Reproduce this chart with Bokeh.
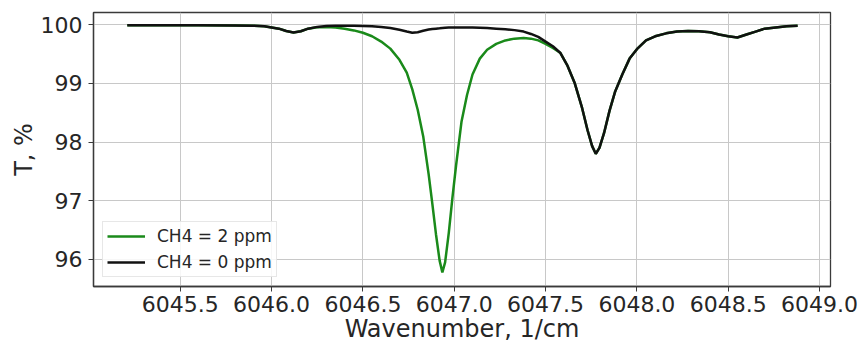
from bokeh.plotting import figure
from bokeh.models import (ColumnDataSource, Range1d, FixedTicker, NumeralTickFormatter,
                          Legend, LegendItem)
from bokeh.embed import file_html
from bokeh.resources import INLINE

# Transmission spectrum near 6047 1/cm, with and without methane
wavenumber = [6045.21, 6045.40, 6045.60, 6045.80, 6045.90, 6045.96, 6046.00, 6046.04,
              6046.08, 6046.12, 6046.16, 6046.20, 6046.25, 6046.30, 6046.35, 6046.40,
              6046.45, 6046.50, 6046.55, 6046.60, 6046.65, 6046.70, 6046.74, 6046.77,
              6046.80, 6046.83, 6046.86, 6046.88, 6046.90, 6046.92, 6046.935, 6046.95,
              6046.97, 6046.99, 6047.01, 6047.04, 6047.07, 6047.10, 6047.14, 6047.18,
              6047.23, 6047.28, 6047.33, 6047.38, 6047.42, 6047.46, 6047.50, 6047.54,
              6047.58, 6047.62, 6047.66, 6047.70, 6047.73, 6047.755, 6047.775, 6047.795,
              6047.82, 6047.85, 6047.88, 6047.92, 6047.96, 6048.00, 6048.05, 6048.10,
              6048.16, 6048.22, 6048.28, 6048.34, 6048.40, 6048.45, 6048.50, 6048.55,
              6048.60, 6048.65, 6048.70, 6048.76, 6048.82, 6048.88]

t_ch4_0ppm = [99.99, 99.99, 99.99, 99.985, 99.98, 99.97, 99.95, 99.93,
              99.89, 99.865, 99.885, 99.93, 99.96, 99.975, 99.98, 99.98,
              99.98, 99.975, 99.97, 99.96, 99.94, 99.91, 99.88, 99.86,
              99.87, 99.895, 99.915, 99.925, 99.93, 99.935, 99.94, 99.945,
              99.95, 99.95, 99.95, 99.95, 99.95, 99.95, 99.945, 99.94,
              99.93, 99.92, 99.905, 99.88, 99.84, 99.79, 99.71, 99.63,
              99.52, 99.30, 99.00, 98.58, 98.20, 97.93, 97.80, 97.90,
              98.15, 98.53, 98.85, 99.15, 99.42, 99.58, 99.73, 99.80,
              99.85, 99.88, 99.89, 99.885, 99.87, 99.83, 99.80, 99.78,
              99.83, 99.88, 99.93, 99.95, 99.97, 99.98]

t_ch4_2ppm = [99.99, 99.99, 99.99, 99.985, 99.98, 99.97, 99.95, 99.93,
              99.89, 99.865, 99.885, 99.93, 99.955, 99.96, 99.95, 99.93,
              99.90, 99.86, 99.80, 99.71, 99.59, 99.40, 99.18, 98.90,
              98.55, 98.10, 97.45, 96.95, 96.43, 95.98, 95.78, 95.95,
              96.45, 97.05, 97.60, 98.35, 98.80, 99.15, 99.42, 99.57,
              99.67, 99.73, 99.76, 99.77, 99.76, 99.73, 99.67, 99.60,
              99.52, 99.30, 99.00, 98.58, 98.20, 97.93, 97.80, 97.90,
              98.15, 98.53, 98.85, 99.15, 99.42, 99.58, 99.73, 99.80,
              99.85, 99.88, 99.89, 99.885, 99.87, 99.83, 99.80, 99.78,
              99.83, 99.88, 99.93, 99.95, 99.97, 99.98]

series_labels = ["CH4 = 2 ppm", "CH4 = 0 ppm"]
x_ticks = [6045.5, 6046.0, 6046.5, 6047.0, 6047.5, 6048.0, 6048.5, 6049.0]
y_ticks = [96, 97, 98, 99, 100]

FONT = "DejaVu Sans"
TEXT = "#262626"
FRAME = "#3a3a3a"

src = ColumnDataSource(dict(wn=wavenumber, t0=t_ch4_0ppm, t2=t_ch4_2ppm))

p = figure(width=859, height=347, output_backend="svg", toolbar_location=None,
           x_range=Range1d(6045.025, 6049.06), y_range=Range1d(95.54, 100.205),
           min_border_left=93, min_border_right=29, min_border_top=12,
           min_border_bottom=61)
p.background_fill_color = "white"
p.border_fill_color = "white"
p.outline_line_color = FRAME
p.outline_line_width = 1.3

r2 = p.line("wn", "t2", source=src, line_color="#1a8a1a", line_width=2.5)
r0 = p.line("wn", "t0", source=src, line_color="#111111", line_width=2.5)

p.xaxis.ticker = FixedTicker(ticks=x_ticks)
p.xaxis.formatter = NumeralTickFormatter(format="0.0")
p.yaxis.ticker = FixedTicker(ticks=y_ticks)

p.xaxis.axis_label = "Wavenumber, 1/cm"
p.yaxis.axis_label = "T, %"
for ax in (p.xaxis, p.yaxis):
    ax.axis_label_text_font = FONT
    ax.axis_label_text_font_size = "24px"
    ax.axis_label_text_font_style = "normal"
    ax.axis_label_text_color = TEXT
    ax.major_label_text_font = FONT
    ax.major_label_text_font_size = "22px"
    ax.major_label_text_color = TEXT
    ax.axis_line_color = FRAME
    ax.axis_line_width = 1.3
    ax.major_tick_line_color = FRAME
    ax.major_tick_out = 5
    ax.major_tick_in = 0
    ax.minor_tick_line_color = None
p.xaxis.major_label_standoff = 4
p.xaxis.axis_label_standoff = 0
p.yaxis.major_label_standoff = 6
p.yaxis.axis_label_standoff = 0

p.grid.grid_line_color = "#c8c8c8"
p.grid.grid_line_width = 1

legend = Legend(items=[LegendItem(label=series_labels[0], renderers=[r2]),
                       LegendItem(label=series_labels[1], renderers=[r0])],
                location="bottom_left")
legend.label_text_font = FONT
legend.label_text_font_size = "17px"
legend.label_text_color = TEXT
legend.glyph_width = 38
legend.glyph_height = 20
legend.label_height = 20
legend.label_standoff = 12
legend.spacing = 6
legend.padding = 4
legend.margin = 9
legend.border_line_color = "#d0d0d0"
legend.border_line_width = 1
legend.background_fill_color = "white"
legend.background_fill_alpha = 0.85
p.add_layout(legend)

open("out.html", "w").write(file_html(p, INLINE))
